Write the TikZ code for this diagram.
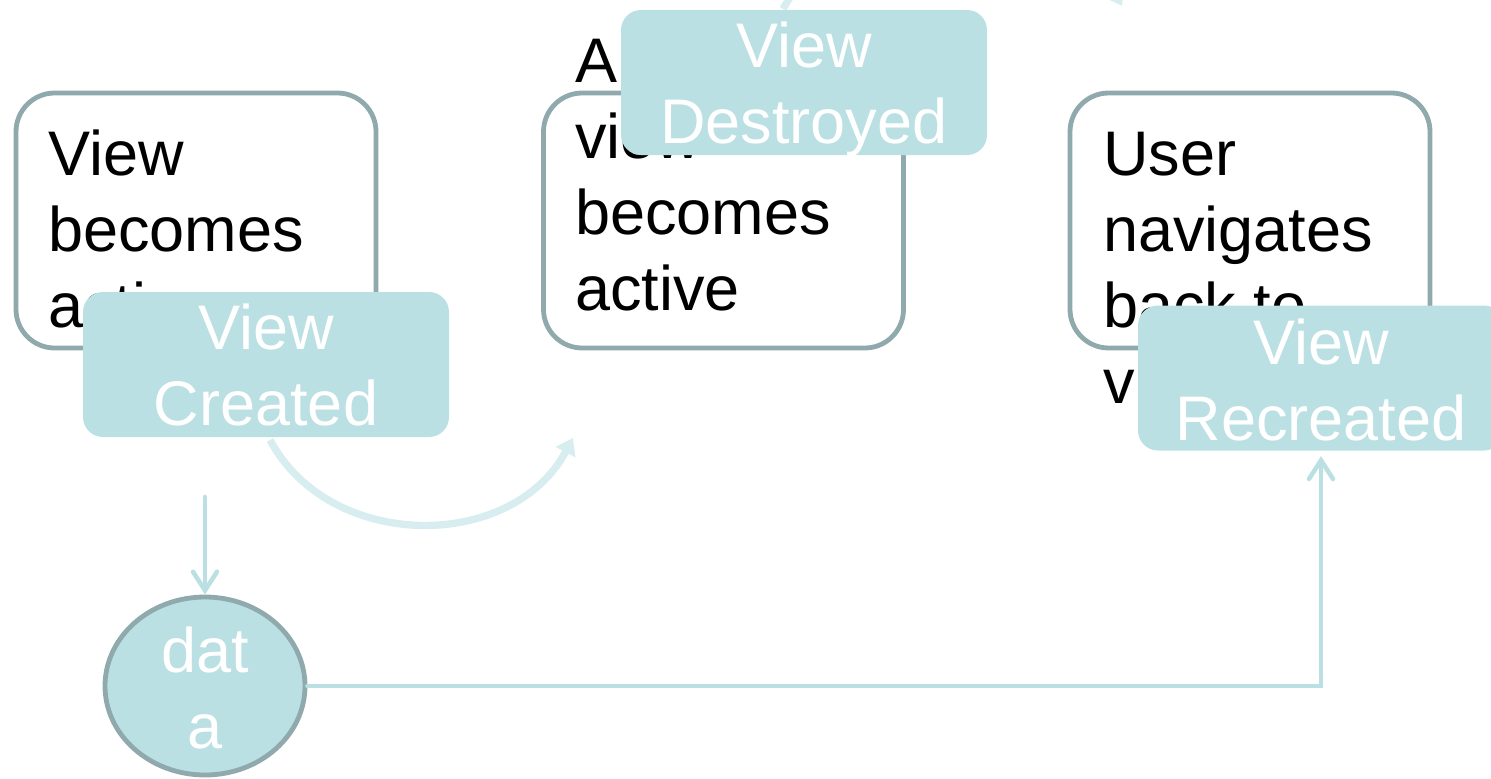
\documentclass[tikz,border=0pt]{standalone}
\usepackage{fontspec}
\setmainfont{Liberation Sans}
\usetikzlibrary{arrows.meta,shapes.geometric}
\definecolor{tealfill}{HTML}{BAE0E3}
\definecolor{bord}{HTML}{8FA9AC}
\definecolor{arcc}{HTML}{D8EDEF}
\tikzset{
  whitebox/.style={draw=bord, line width=3.6pt, fill=white, rounded corners=29pt,
    minimum width=270pt, minimum height=191.25pt, inner sep=0pt},
  tealbox/.style={fill=tealfill, rounded corners=15pt,
    minimum width=274.5pt, minimum height=108.75pt, inner sep=0pt},
  bigtext/.style={font=\fontsize{47.25}{57}\selectfont, inner sep=0pt},
  blacktext/.style={bigtext, text=black, align=left, anchor=base west},
  whitetext/.style={bigtext, text=white, align=center, anchor=base},
  conn/.style={draw=tealfill, line width=3.4pt, line cap=round,
    -{Straight Barb[length=14pt, width=18pt, line cap=round]}},
  arcarrow/.style={draw=arcc, line width=5.5pt,
    -{Triangle[length=12pt, width=16pt]}},
}
\begin{document}
\begin{tikzpicture}[x=0.75pt, y=-0.75pt]
\useasboundingbox (0,0) rectangle (1491,778);
% white boxes with text (anchor base = last line)
\node[whitebox] (b1) at (196,220.5) {};
\node[blacktext] (t1) at (48,327) {View\\becomes\\active};
\node[whitebox] (b2) at (723.5,220.5) {};
\node[blacktext] (t2) at (575,310) {Another\\view\\becomes\\active};
\node[whitebox] (b3) at (1250,220.5) {};
\node[blacktext] (t3) at (1103,403) {User\\navigates\\back to\\view};
% arcs
\coordinate (a1s) at (270,440);
\coordinate (a1e) at (573,438);
\draw[arcarrow] (a1s) .. controls (330,552) and (512,552) .. (a1e);
\coordinate (a2s) at (783,9);
\coordinate (a2e) at (1122,6);
\draw[arcarrow] (a2s) .. controls (845,-105) and (1060,-105) .. (a2e);
% teal boxes
\node[tealbox] (cre) at (266,364.5) {};
\node[whitetext] (tcre) at (266,425) {View\\Created};
\node[tealbox] (des) at (804,82.5) {};
\node[whitetext] (tdes) at (804,143) {View\\Destroyed};
\node[tealbox] (rec) at (1321,378) {};
\node[whitetext] (trec) at (1321,440) {View\\Recreated};
% data ellipse
\node[ellipse, draw=bord, line width=3.6pt, fill=tealfill, minimum width=150pt,
  minimum height=133.5pt, inner sep=0pt] (data) at (205,686) {};
\node[whitetext] (tdata) at (205,748) {dat\\a};
% connectors
\coordinate (c1) at (205,497);
\draw[conn] (c1) -- (data.north);
\draw[conn] (data.east) -| ([yshift=-4pt]rec.south);
\end{tikzpicture}
\end{document}
